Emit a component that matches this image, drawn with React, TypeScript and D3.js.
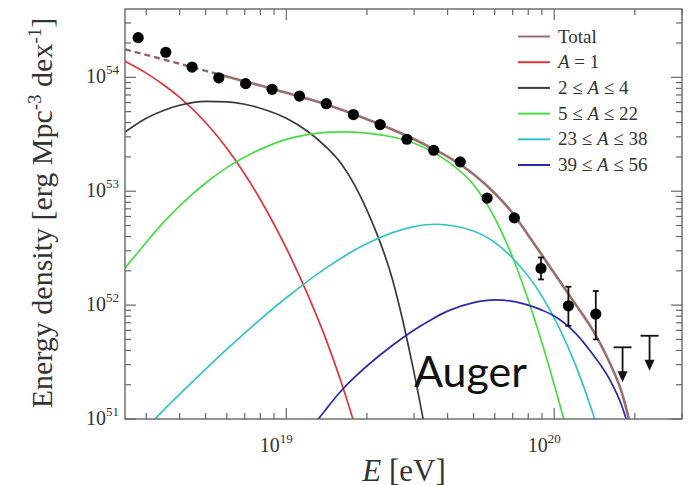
import React from 'react';
import * as d3 from 'd3';

// ---- axes ----
const xDomain: [number, number] = [2.5e18, 3e20];
const yDomain: [number, number] = [1e51, 3.98e54];
const xMajor = [1e19, 1e20];
const xMajorExp = ['19', '20'];
const yMajor = [1e51, 1e52, 1e53, 1e54];
const yMajorExp = ['51', '52', '53', '54'];

// ---- model curves ----
const totalE = [2.5e18, 3e18, 3.5e18, 4e18, 5e18, 5.6e18, 6e18, 7e18, 8e18, 1e19, 1.2e19, 1.4e19, 1.6e19, 2e19, 2.5e19, 3e19, 3.5e19, 4e19, 5e19, 6e19, 7e19, 8e19, 9e19, 1e20, 1.2e20, 1.4e20, 1.6e20, 1.8e20, 1.9e20, 2e20];
const totalV = [1.761e54, 1.575e54, 1.43e54, 1.313e54, 1.14e54, 1.062e54, 1.016e54, 9.22e53, 8.48e53, 7.31e53, 6.48e53, 5.80e53, 5.21e53, 4.28e53, 3.46e53, 2.86e53, 2.38e53, 2.01e53, 1.41e53, 9.60e52, 6.41e52, 4.11e52, 2.75e52, 1.91e52, 1.02e52, 5.92e51, 3.23e51, 1.62e51, 1.0e51, 5.8e50];
const totalDashEnd = 5.6e18;

const redE = [2.5e18, 3e18, 3.5e18, 4e18, 5e18, 6e18, 7e18, 8e18, 9e18, 1e19, 1.2e19, 1.4e19, 1.6e19, 1.8e19];
const redV = [1.382e54, 1.088e54, 8.51e53, 6.66e53, 4.01e53, 2.38e53, 1.41e53, 8.46e52, 5.13e52, 3.16e52, 1.25e52, 5.16e51, 2.13e51, 8.91e50];

const blackE = [2.5e18, 3e18, 3.5e18, 4e18, 5e18, 6e18, 7e18, 8e18, 1e19, 1.2e19, 1.4e19, 1.6e19, 1.8e19, 2e19, 2.5e19, 3e19, 3.3e19];
const blackV = [3.30e53, 4.37e53, 5.14e53, 5.68e53, 6.15e53, 6.09e53, 5.80e53, 5.35e53, 4.37e53, 3.36e53, 2.48e53, 1.76e53, 1.13e53, 6.81e52, 1.63e52, 2.54e51, 8.02e50];

const greenE = [2.5e18, 3e18, 3.5e18, 4e18, 5e18, 6e18, 7e18, 8e18, 1e19, 1.2e19, 1.4e19, 1.6e19, 2e19, 2.5e19, 3e19, 3.5e19, 4e19, 5e19, 6e19, 7e19, 8e19, 9e19, 1e20, 1.1e20];
const greenV = [2.11e52, 3.55e52, 5.40e52, 7.44e52, 1.18e53, 1.61e53, 2.00e53, 2.33e53, 2.85e53, 3.14e53, 3.28e53, 3.32e53, 3.24e53, 2.99e53, 2.64e53, 2.23e53, 1.83e53, 1.14e53, 5.82e52, 2.62e52, 1.11e52, 4.68e51, 2.01e51, 9.0e50];

const cyanE = [3e18, 3.5e18, 4e18, 5e18, 6e18, 8e18, 1e19, 1.4e19, 2e19, 3e19, 3.6e19, 5e19, 7e19, 9e19, 1.2e20, 1.4e20, 1.6e20];
const cyanV = [8.34e50, 1.21e51, 1.65e51, 2.74e51, 4.10e51, 7.51e51, 1.16e52, 2.10e52, 3.47e52, 4.89e52, 5.13e52, 4.47e52, 2.58e52, 1.20e52, 3.00e51, 1.09e51, 3.72e50];

const blueE = [1.2e19, 1.3e19, 1.4e19, 1.6e19, 1.8e19, 2e19, 2.5e19, 3e19, 3.5e19, 4e19, 5e19, 6e19, 7e19, 8e19, 9e19, 1e20, 1.2e20, 1.4e20, 1.6e20, 1.8e20, 1.9e20];
const blueV = [7.24e50, 9.59e50, 1.20e51, 1.76e51, 2.33e51, 2.92e51, 4.46e51, 6.04e51, 7.53e51, 8.85e51, 1.05e52, 1.11e52, 1.08e52, 1.00e52, 9.04e51, 8.02e51, 5.68e51, 3.64e51, 2.29e51, 1.25e51, 8.34e50];

// ---- Auger data ----
const ptE = [2.8e18, 3.55e18, 4.45e18, 5.6e18, 7.05e18, 8.85e18, 1.12e19, 1.41e19, 1.78e19, 2.24e19, 2.82e19, 3.55e19, 4.46e19, 5.62e19, 7.1e19, 8.93e19, 1.13e20, 1.43e20];
const ptV = [2.23e54, 1.66e54, 1.23e54, 9.9e53, 8.8e53, 7.85e53, 6.85e53, 5.87e53, 4.71e53, 3.85e53, 2.86e53, 2.29e53, 1.81e53, 8.7e52, 5.83e52, 2.1e52, 9.86e51, 8.34e51];
const ptLo = [null, null, null, null, null, null, null, null, null, null, null, null, null, null, null, 1.68e52, 6.58e51, 5.0e51];
const ptHi = [null, null, null, null, null, null, null, null, null, null, null, null, null, null, null, 2.62e52, 1.45e52, 1.33e52];
const ulE = [1.8e20, 2.27e20];
const ulV = [4.26e51, 5.38e51];

// ---- legend ----
const legendLabels = ['Total', 'A = 1', '2 ≤ A ≤ 4', '5 ≤ A ≤ 22', '23 ≤ A ≤ 38', '39 ≤ A ≤ 56'];
const legendColors = ['#9c6e6e', '#e5333b', '#3a3a3a', '#44dd44', '#33c4c6', '#2a2aaa'];

const serif = "'Liberation Serif', 'Times New Roman', Times, serif";

export default function App() {
  const X0 = 125, X1 = 682, Y0 = 9, Y1 = 419;
  const x = d3.scaleLog().domain(xDomain).range([X0, X1]);
  const y = d3.scaleLog().domain(yDomain).range([Y1, Y0]);
  const line = d3
    .line<[number, number]>()
    .x((d) => x(d[0]))
    .y((d) => y(d[1]))
    .curve(d3.curveMonotoneX);
  const zip = (a: number[], b: number[]) => a.map((e, i) => [e, b[i]] as [number, number]);

  const totalPts = zip(totalE, totalV);
  const dashPts = totalPts.filter((d) => d[0] <= totalDashEnd);
  const solidPts = totalPts.filter((d) => d[0] >= totalDashEnd);

  const comps = [
    { pts: zip(redE, redV), c: legendColors[1] },
    { pts: zip(blackE, blackV), c: legendColors[2] },
    { pts: zip(greenE, greenV), c: legendColors[3] },
    { pts: zip(cyanE, cyanV), c: legendColors[4] },
    { pts: zip(blueE, blueV), c: legendColors[5] },
  ];

  const xMinor: number[] = [];
  for (let n = 18; n <= 20; n++) for (let k = 2; k <= 9; k++) {
    const v = k * Math.pow(10, n);
    if (v >= xDomain[0] && v <= xDomain[1]) xMinor.push(v);
  }
  const yMinor: number[] = [];
  for (let n = 51; n <= 54; n++) for (let k = 2; k <= 9; k++) {
    const v = k * Math.pow(10, n);
    if (v >= yDomain[0] && v <= yDomain[1]) yMinor.push(v);
  }
  const axisCol = '#666';
  const majL = 11, minL = 6;

  const renderLegendLabel = (s: string) => {
    const parts = s.split('A');
    const out: React.ReactNode[] = [];
    parts.forEach((p, i) => {
      if (i > 0) out.push(<tspan key={'a' + i} fontStyle="italic">A</tspan>);
      if (p) out.push(<tspan key={'p' + i}>{p}</tspan>);
    });
    return out;
  };

  return (
    <svg width={696} height={485} style={{ position: 'absolute', left: 0, top: 0, background: '#fff' }}>
      <defs>
        <clipPath id="plot">
          <rect x={X0} y={Y0} width={X1 - X0} height={Y1 - Y0} />
        </clipPath>
      </defs>
      <rect x={0} y={0} width={696} height={485} fill="#fff" />

      <g clipPath="url(#plot)" fill="none">
        {comps.map((c, i) => (
          <path key={i} d={line(c.pts) || ''} stroke={c.c} strokeWidth={1.7} />
        ))}
        <path d={line(dashPts) || ''} stroke="#8a6767" strokeWidth={2.4} strokeDasharray="6,4" />
        <path d={line(solidPts) || ''} stroke={legendColors[0]} strokeWidth={2.6} />
      </g>

      <g>
        {ptE.map((e, i) =>
          ptLo[i] != null ? (
            <g key={'eb' + i} stroke="#111" strokeWidth={1.8}>
              <line x1={x(e)} x2={x(e)} y1={y(ptLo[i] as number)} y2={y(ptHi[i] as number)} />
              <line x1={x(e) - 3} x2={x(e) + 3} y1={y(ptLo[i] as number)} y2={y(ptLo[i] as number)} />
              <line x1={x(e) - 3} x2={x(e) + 3} y1={y(ptHi[i] as number)} y2={y(ptHi[i] as number)} />
            </g>
          ) : null
        )}
        {ptE.map((e, i) => (
          <circle key={'p' + i} cx={x(e)} cy={y(ptV[i])} r={5.6} fill="#000" />
        ))}
        {ulE.map((e, i) => {
          const cx = x(e), cy = y(ulV[i]);
          return (
            <g key={'ul' + i}>
              <line x1={cx - 9} x2={cx + 9} y1={cy} y2={cy} stroke="#111" strokeWidth={1.8} />
              <line x1={cx} x2={cx} y1={cy} y2={cy + 26} stroke="#111" strokeWidth={1.8} />
              <path d={`M${cx - 5},${cy + 24} L${cx + 5},${cy + 24} L${cx},${cy + 35} Z`} fill="#111" />
            </g>
          );
        })}
      </g>

      <rect x={X0} y={Y0} width={X1 - X0} height={Y1 - Y0} fill="none" stroke={axisCol} strokeWidth={1.4} />
      <g stroke={axisCol} strokeWidth={1.2}>
        {xMajor.map((v, i) => (
          <g key={'xM' + i}>
            <line x1={x(v)} x2={x(v)} y1={Y1} y2={Y1 - majL} />
            <line x1={x(v)} x2={x(v)} y1={Y0} y2={Y0 + majL} />
          </g>
        ))}
        {xMinor.map((v, i) => (
          <g key={'xm' + i}>
            <line x1={x(v)} x2={x(v)} y1={Y1} y2={Y1 - minL} />
            <line x1={x(v)} x2={x(v)} y1={Y0} y2={Y0 + minL} />
          </g>
        ))}
        {yMajor.map((v, i) => (
          <g key={'yM' + i}>
            <line x1={X0} x2={X0 + majL} y1={y(v)} y2={y(v)} />
            <line x1={X1} x2={X1 - majL} y1={y(v)} y2={y(v)} />
          </g>
        ))}
        {yMinor.map((v, i) => (
          <g key={'ym' + i}>
            <line x1={X0} x2={X0 + minL} y1={y(v)} y2={y(v)} />
            <line x1={X1} x2={X1 - minL} y1={y(v)} y2={y(v)} />
          </g>
        ))}
      </g>

      <g fontFamily={serif} fill="#333">
        {xMajor.map((v, i) => (
          <text key={'xl' + i} x={x(v) - 10} y={452} fontSize={20} textAnchor="middle">
            10<tspan dy={-9} fontSize={13}>{xMajorExp[i]}</tspan>
          </text>
        ))}
        {yMajor.map((v, i) => (
          <text key={'yl' + i} x={119} y={y(v) + 6} fontSize={20} textAnchor="end">
            10<tspan dy={-9} fontSize={13}>{yMajorExp[i]}</tspan>
          </text>
        ))}
      </g>

      <text x={404} y={481} fontFamily={serif} fontSize={31} textAnchor="middle" fill="#333">
        <tspan fontStyle="italic">E</tspan> [eV]
      </text>
      <text transform="translate(52,213) rotate(-90)" fontFamily={serif} fontSize={30} textAnchor="middle" fill="#333">
        Energy density [erg Mpc<tspan dy={-11} fontSize={19}>-3</tspan>
        <tspan dy={11}> dex</tspan>
        <tspan dy={-11} fontSize={19}>-1</tspan>
        <tspan dy={11}>]</tspan>
      </text>

      <g fontFamily={serif} fontSize={19} fill="#333">
        {legendLabels.map((l, i) => {
          const ly = 36.5 + i * 25.7;
          return (
            <g key={'lg' + i}>
              <line x1={518} x2={550} y1={ly} y2={ly} stroke={legendColors[i]} strokeWidth={2} />
              <text x={558} y={ly + 6}>{renderLegendLabel(l)}</text>
            </g>
          );
        })}
      </g>

      <text x={414} y={387} fontFamily="Lato, 'Liberation Sans', sans-serif" fontSize={43} fill="#111">
        Auger
      </text>
    </svg>
  );
}
